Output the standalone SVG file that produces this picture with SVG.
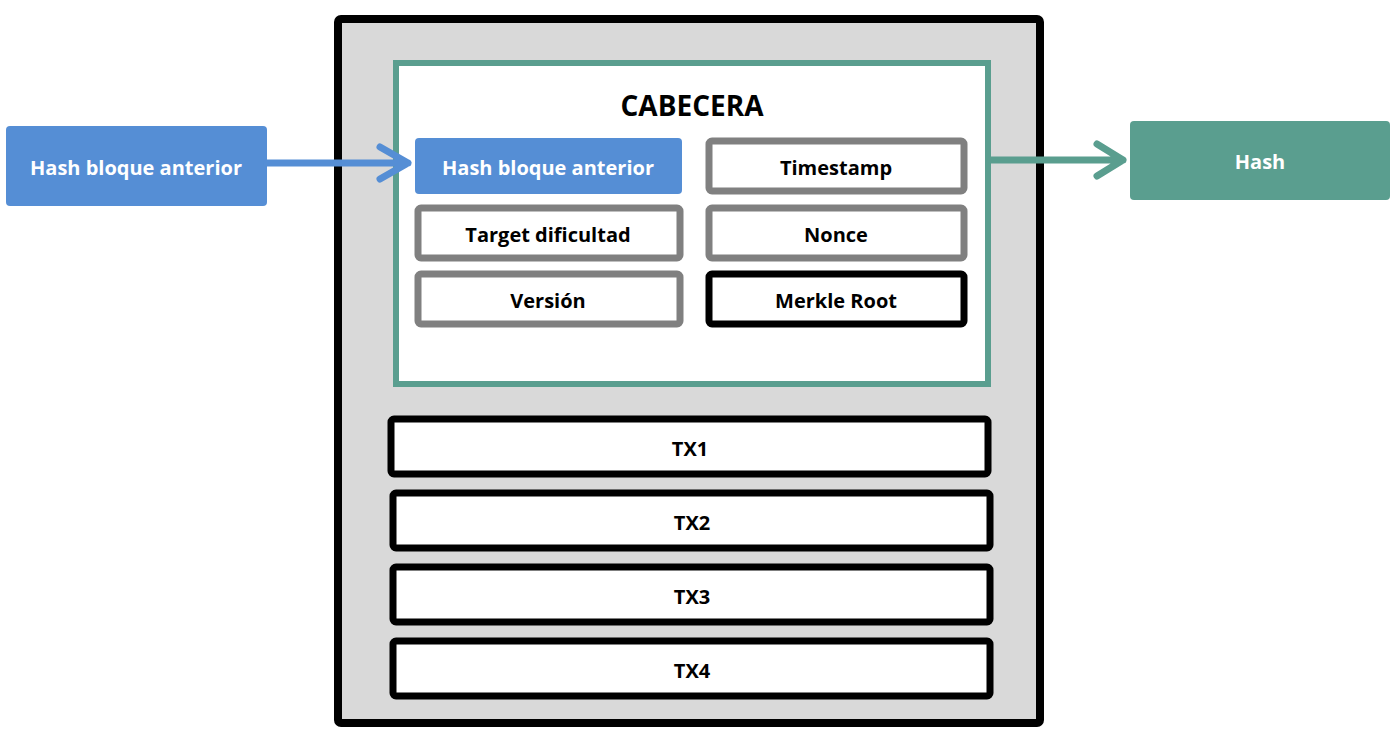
<svg xmlns="http://www.w3.org/2000/svg" width="1400" height="734" viewBox="0 0 1400 734">
<style>
text{font-family:"Open Sans","Liberation Sans",sans-serif;font-weight:bold;text-anchor:middle;dominant-baseline:central;font-size:20px;fill:#000}
.g{fill:#fff;stroke:#808080;stroke-width:7}
.k{fill:#fff;stroke:#000;stroke-width:7}
.w{fill:#fff}
</style>
<rect width="1400" height="734" fill="#fff"/>
<g id="bloque"><rect x="338" y="19" width="702" height="704" rx="3" fill="#d9d9d9" stroke="#000" stroke-width="8"/></g>
<g id="cabecera"><rect x="396" y="63" width="592" height="321" fill="#fff" stroke="#5a9e8f" stroke-width="6"/><text x="692" y="105" style="font-size:28px">CABECERA</text></g>
<g id="prev-in"><rect x="6" y="126" width="261" height="80" rx="4" fill="#558ed5"/><text class="w" x="136" y="167">Hash bloque anterior</text></g>
<g id="prev"><rect x="415" y="138" width="267" height="56" rx="4" fill="#558ed5"/><text class="w" x="548" y="167">Hash bloque anterior</text></g>
<g id="timestamp"><rect class="g" x="709" y="141" width="255" height="50" rx="3"/><text x="836" y="167">Timestamp</text></g>
<g id="target"><rect class="g" x="418" y="208" width="262" height="50" rx="3"/><text x="548" y="234">Target dificultad</text></g>
<g id="nonce"><rect class="g" x="709" y="208" width="255" height="50" rx="3"/><text x="836" y="234">Nonce</text></g>
<g id="version"><rect class="g" x="418" y="274" width="262" height="50" rx="3"/><text x="548" y="300">Versión</text></g>
<g id="merkle"><rect class="k" x="709" y="274" width="255" height="50" rx="3"/><text x="836" y="300">Merkle Root</text></g>
<g id="tx1"><rect class="k" x="391" y="419" width="597" height="55" rx="3"/><text x="690" y="448">TX1</text></g>
<g id="tx2"><rect class="k" x="393" y="493" width="597" height="55" rx="3"/><text x="692" y="522">TX2</text></g>
<g id="tx3"><rect class="k" x="393" y="567" width="597" height="55" rx="3"/><text x="692" y="596">TX3</text></g>
<g id="tx4"><rect class="k" x="393" y="641" width="597" height="55" rx="3"/><text x="692" y="670">TX4</text></g>
<g id="hash"><rect x="1130" y="121" width="260" height="79" rx="4" fill="#5a9e8f"/><text class="w" x="1260" y="161">Hash</text></g>
<g id="connectors" fill="none" stroke-linecap="round" stroke-linejoin="round">
<path d="M267 163H408M380 147L408 163L380 179" stroke="#558ed5" stroke-width="7"/>
<path d="M991 160H1123M1097 144L1123 160L1097 176" stroke="#5a9e8f" stroke-width="7"/>
</g>
</svg>
